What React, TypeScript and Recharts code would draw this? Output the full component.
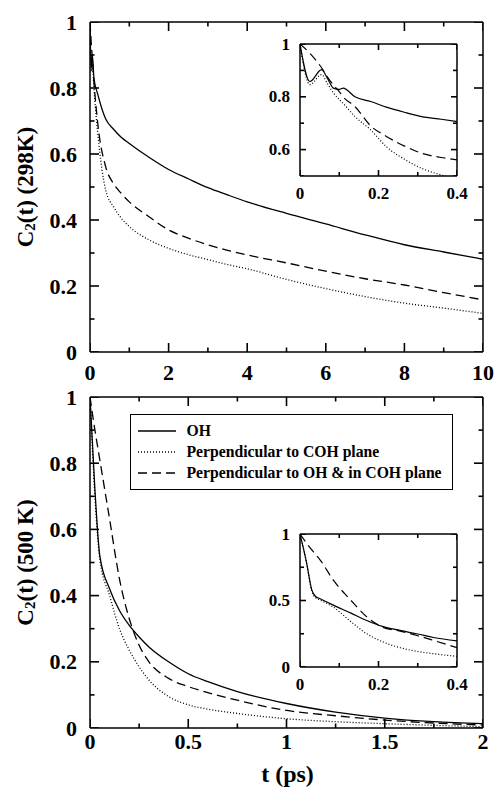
import React from 'react';
import { ComposedChart, Line, Scatter, XAxis, YAxis, Legend, Label } from 'recharts';

const FONT = '"Liberation Serif", "Times New Roman", serif';

// 298 K, full range (ps)
const time298 = [0, 0.03, 0.06, 0.1, 0.2, 0.4, 0.6, 0.8, 1, 1.5, 2, 2.5, 3, 3.5, 4, 5, 6, 7, 8, 9, 10];
const oh298 = [1, 0.86, 0.9, 0.83, 0.78, 0.706, 0.675, 0.65, 0.632, 0.59, 0.553, 0.525, 0.498, 0.476, 0.455, 0.42, 0.388, 0.355, 0.325, 0.303, 0.281];
const perpCoh298 = [1, 0.85, 0.88, 0.8, 0.66, 0.49, 0.44, 0.405, 0.38, 0.34, 0.314, 0.295, 0.28, 0.265, 0.252, 0.22, 0.192, 0.168, 0.148, 0.133, 0.117];
const perpOh298 = [1, 0.94, 0.89, 0.82, 0.69, 0.561, 0.51, 0.48, 0.455, 0.41, 0.37, 0.345, 0.325, 0.308, 0.294, 0.27, 0.245, 0.222, 0.203, 0.18, 0.158];

// 298 K, short times (inset)
const insetTime298 = [0, 0.025, 0.055, 0.07, 0.085, 0.1, 0.11, 0.14, 0.18, 0.22, 0.27, 0.31, 0.36, 0.4];
const insetOh298 = [1, 0.858, 0.903, 0.87, 0.833, 0.828, 0.833, 0.8, 0.782, 0.761, 0.74, 0.725, 0.715, 0.706];
const insetPerpCoh298 = [1, 0.846, 0.884, 0.85, 0.815, 0.79, 0.775, 0.725, 0.675, 0.611, 0.56, 0.529, 0.504, 0.49];
const insetPerpOh298 = [1, 0.965, 0.91, 0.875, 0.845, 0.82, 0.8, 0.763, 0.69, 0.65, 0.611, 0.586, 0.57, 0.561];

// 500 K, full range (ps)
const time500 = [0, 0.025, 0.05, 0.1, 0.15, 0.2, 0.25, 0.3, 0.4, 0.5, 0.6, 0.75, 1, 1.25, 1.5, 1.75, 2];
const oh500 = [1, 0.72, 0.52, 0.42, 0.355, 0.31, 0.275, 0.245, 0.2, 0.164, 0.14, 0.11, 0.074, 0.048, 0.03, 0.019, 0.013];
const perpCoh500 = [1, 0.7, 0.51, 0.4, 0.3, 0.235, 0.185, 0.145, 0.095, 0.07, 0.057, 0.044, 0.028, 0.019, 0.013, 0.008, 0.004];
const perpOh500 = [1, 0.9, 0.81, 0.63, 0.45, 0.33, 0.25, 0.2, 0.15, 0.125, 0.107, 0.084, 0.053, 0.037, 0.024, 0.015, 0.009];

// 500 K, short times (inset)
const insetTime500 = [0, 0.017, 0.03, 0.04, 0.05, 0.085, 0.13, 0.17, 0.21, 0.255, 0.3, 0.34, 0.4];
const insetOh500 = [1, 0.78, 0.58, 0.53, 0.515, 0.465, 0.405, 0.35, 0.305, 0.275, 0.248, 0.222, 0.196];
const insetPerpCoh500 = [1, 0.78, 0.57, 0.52, 0.505, 0.45, 0.34, 0.25, 0.19, 0.145, 0.117, 0.1, 0.08];
const insetPerpOh500 = [1, 0.93, 0.88, 0.845, 0.81, 0.653, 0.5, 0.377, 0.3, 0.27, 0.235, 0.2, 0.145];

// tick positions
const xTicks298 = [0, 1, 2, 3, 4, 5, 6, 7, 8, 9, 10];
const xMajor298 = [0, 2, 4, 6, 8, 10];
const xTicks500 = [0, 0.25, 0.5, 0.75, 1, 1.25, 1.5, 1.75, 2];
const xMajor500 = [0, 0.5, 1, 1.5, 2];
const yTicksMain = [0, 0.1, 0.2, 0.3, 0.4, 0.5, 0.6, 0.7, 0.8, 0.9, 1];
const yMajorMain = [0, 0.2, 0.4, 0.6, 0.8, 1];
const xTicksInset = [0, 0.1, 0.2, 0.3, 0.4];
const xMajorInset = [0, 0.2, 0.4];
const yTicksInset298 = [0.5, 0.6, 0.7, 0.8, 0.9, 1];
const yMajorInset298 = [0.6, 0.8, 1];
const yTicksInset500 = [0, 0.25, 0.5, 0.75, 1];
const yMajorInset500 = [0, 0.5, 1];

const series = [
  { key: 'oh', name: 'OH', dash: undefined as string | undefined },
  { key: 'perpCoh', name: 'Perpendicular to COH plane', dash: '1 2' },
  { key: 'perpOh', name: 'Perpendicular to OH & in COH plane', dash: '9 5' },
];

const zip = (t: number[], a: number[], b: number[], c: number[]) =>
  t.map((x, i) => ({ t: x, oh: a[i], perpCoh: b[i], perpOh: c[i] }));

const data298 = zip(time298, oh298, perpCoh298, perpOh298);
const inset298 = zip(insetTime298, insetOh298, insetPerpCoh298, insetPerpOh298);
const data500 = zip(time500, oh500, perpCoh500, perpOh500);
const inset500 = zip(insetTime500, insetOh500, insetPerpCoh500, insetPerpOh500);

const frame = { stroke: '#000', strokeWidth: 1.5 };

type Side = 'bottom' | 'left' | 'top' | 'right';
const isIn = (arr: number[], v: number) => arr.some((m) => Math.abs(m - v) < 1e-9);

// one point per tick mark, sitting on the frame edge
function tickMarks(xDomain: number[], yDomain: number[], xTicks: number[], xMajor: number[], yTicks: number[], yMajor: number[]) {
  return [
    ...xTicks.map((t) => ({ t, mark: yDomain[0], side: 'bottom' as Side, major: isIn(xMajor, t) })),
    ...xTicks.map((t) => ({ t, mark: yDomain[1], side: 'top' as Side, major: isIn(xMajor, t) })),
    ...yTicks.map((v) => ({ t: xDomain[0], mark: v, side: 'left' as Side, major: isIn(yMajor, v) })),
    ...yTicks.map((v) => ({ t: xDomain[1], mark: v, side: 'right' as Side, major: isIn(yMajor, v) })),
  ];
}

function tickShape(big: number, small: number) {
  return (props: any) => {
    const cx = Number(props.cx);
    const cy = Number(props.cy);
    const p = props.payload || props;
    const len = p.major ? big : small;
    let x2 = cx;
    let y2 = cy;
    if (p.side === 'bottom') y2 = cy - len;
    if (p.side === 'top') y2 = cy + len;
    if (p.side === 'left') x2 = cx + len;
    if (p.side === 'right') x2 = cx - len;
    return <path d={`M${cx},${cy}L${x2},${y2}`} stroke="#000" strokeWidth={1.6} fill="none" />;
  };
}

// tick labels only, on majors
function labelTick(side: 'bottom' | 'left', majors: number[], fontSize: number, gap: number) {
  return (props: any) => {
    const x = Number(props.x);
    const y = Number(props.y);
    const v = props.payload.value;
    if (!isIn(majors, v)) return <g />;
    const common = { fontFamily: FONT, fontWeight: 700, fontSize, fill: '#000', dominantBaseline: 'central' as const };
    return side === 'bottom' ? (
      <text x={x} y={y + gap} textAnchor="middle" {...common}>{String(v)}</text>
    ) : (
      <text x={x - gap} y={y} textAnchor="end" {...common}>{String(v)}</text>
    );
  };
}

function yTitle(temp: string) {
  return (props: any) => {
    const vb = props.viewBox || { x: 0, y: 0, height: 0 };
    const cx = 25;
    const cy = vb.y + vb.height / 2;
    return (
      <text
        x={cx}
        y={cy}
        transform={`rotate(-90 ${cx} ${cy})`}
        textAnchor="middle"
        dominantBaseline="central"
        fontFamily={FONT}
        fontWeight={700}
        fontSize={23}
        fill="#000"
      >
        C<tspan dy={5} fontSize={15}>2</tspan>
        <tspan dy={-5}>(t) ({temp})</tspan>
      </text>
    );
  };
}

function LegendBox() {
  return (
    <div
      style={{
        boxSizing: 'border-box',
        width: 323,
        height: 76,
        border: '1.5px solid #000',
        background: '#fff',
        paddingTop: 5,
        paddingLeft: 6.5,
      }}
    >
      {series.map((s) => (
        <div key={s.key} style={{ display: 'flex', alignItems: 'center', height: 21 }}>
          <svg width={38} height={6} style={{ marginRight: 11 }}>
            <line x1={0} y1={3} x2={38} y2={3} stroke="#000" strokeWidth={1.3} strokeDasharray={s.dash} />
          </svg>
          <span style={{ fontFamily: FONT, fontWeight: 700, fontSize: 15.7, color: '#000', whiteSpace: 'nowrap' }}>{s.name}</span>
        </div>
      ))}
    </div>
  );
}

type PanelProps = {
  data: any[];
  width: number;
  height: number;
  margin: { top: number; right: number; left: number; bottom: number };
  xDomain: [number, number];
  yDomain: [number, number];
  xTicks: number[];
  xMajor: number[];
  yTicks: number[];
  yMajor: number[];
  xAxisHeight: number;
  yAxisWidth: number;
  big: number;
  small: number;
  fontSize: number;
  xGap: number;
  yGap: number;
  lineWidth: number;
  xLabel?: React.ReactNode;
  yLabel?: React.ReactNode;
  legend?: boolean;
};

function Panel(p: PanelProps) {
  const marks = tickMarks(p.xDomain, p.yDomain, p.xTicks, p.xMajor, p.yTicks, p.yMajor);
  return (
    <ComposedChart width={p.width} height={p.height} data={p.data} margin={p.margin}>
      <XAxis dataKey="t" type="number" domain={p.xDomain} ticks={p.xTicks} interval={0} allowDataOverflow
        axisLine={frame} tickLine={false} tickSize={0} tickMargin={0} height={p.xAxisHeight}
        tick={labelTick('bottom', p.xMajor, p.fontSize, p.xGap)}>
        {p.xLabel}
      </XAxis>
      <XAxis xAxisId="top" dataKey="t" orientation="top" type="number" domain={p.xDomain} allowDataOverflow
        axisLine={frame} tick={false} tickLine={false} height={1} />
      <YAxis type="number" domain={p.yDomain} ticks={p.yTicks} interval={0} allowDataOverflow
        axisLine={frame} tickLine={false} tickSize={0} tickMargin={0} width={p.yAxisWidth}
        tick={labelTick('left', p.yMajor, p.fontSize, p.yGap)}>
        {p.yLabel}
      </YAxis>
      <YAxis yAxisId="right" dataKey="oh" orientation="right" type="number" domain={p.yDomain} allowDataOverflow
        axisLine={frame} tick={false} tickLine={false} width={1} />
      {series.map((s) => (
        <Line
          key={s.key}
          type="monotone"
          dataKey={s.key}
          name={s.name}
          stroke="#000"
          strokeWidth={p.lineWidth}
          strokeDasharray={s.dash}
          dot={false}
          activeDot={false}
          isAnimationActive={false}
        />
      ))}
      <Scatter data={marks} dataKey="mark" legendType="none" shape={tickShape(p.big, p.small)} isAnimationActive={false} />
      {p.legend && (
        <Legend layout="horizontal" verticalAlign="middle" align="center" wrapperStyle={{ left: 130, top: 39, width: 323, height: 76 }} content={() => <LegendBox />} />
      )}
    </ComposedChart>
  );
}

const mainFrame = { width: 497, big: 9, small: 4.5, fontSize: 22, yGap: 13, yAxisWidth: 90, lineWidth: 1.3, margin: { top: 21, right: 13, left: 0, bottom: 0 } };
const insetFrame = { width: 220, height: 180, big: 6, small: 4, fontSize: 17, xGap: 17, yGap: 10, yAxisWidth: 50, lineWidth: 1.2, margin: { top: 13, right: 12, left: 0, bottom: 0 } };

export default function App() {
  return (
    <div style={{ position: 'absolute', left: 0, top: 0, width: 497, height: 792, background: '#fff' }}>
      {/* 298 K */}
      <div style={{ position: 'absolute', left: 0, top: 0 }}>
        <Panel
          {...mainFrame}
          data={data298}
          height={390}
          xGap={20}
          xDomain={[0, 10]}
          yDomain={[0, 1]}
          xTicks={xTicks298}
          xMajor={xMajor298}
          yTicks={yTicksMain}
          yMajor={yMajorMain}
          xAxisHeight={38}
          yLabel={<Label content={yTitle('298K')} />}
        />
      </div>
      <div style={{ position: 'absolute', left: 250, top: 30 }}>
        <Panel
          {...insetFrame}
          data={inset298}
          xDomain={[0, 0.4]}
          yDomain={[0.5, 1]}
          xTicks={xTicksInset}
          xMajor={xMajorInset}
          yTicks={yTicksInset298}
          yMajor={yMajorInset298}
          xAxisHeight={34}
        />
      </div>

      {/* 500 K */}
      <div style={{ position: 'absolute', left: 0, top: 375 }}>
        <Panel
          {...mainFrame}
          data={data500}
          height={417}
          xGap={13}
          xDomain={[0, 2]}
          yDomain={[0, 1]}
          xTicks={xTicks500}
          xMajor={xMajor500}
          yTicks={yTicksMain}
          yMajor={yMajorMain}
          xAxisHeight={64}
          legend
          xLabel={
            <Label
              content={() => (
                <text x={287.5} y={407} textAnchor="middle" fontFamily={FONT} fontWeight={700} fontSize={24} fill="#000">
                  t (ps)
                </text>
              )}
            />
          }
          yLabel={<Label content={yTitle('500 K')} />}
        />
      </div>
      <div style={{ position: 'absolute', left: 250, top: 520 }}>
        <Panel
          {...insetFrame}
          data={inset500}
          xDomain={[0, 0.4]}
          yDomain={[0, 1]}
          xTicks={xTicksInset}
          xMajor={xMajorInset}
          yTicks={yTicksInset500}
          yMajor={yMajorInset500}
          xAxisHeight={33}
        />
      </div>
    </div>
  );
}
